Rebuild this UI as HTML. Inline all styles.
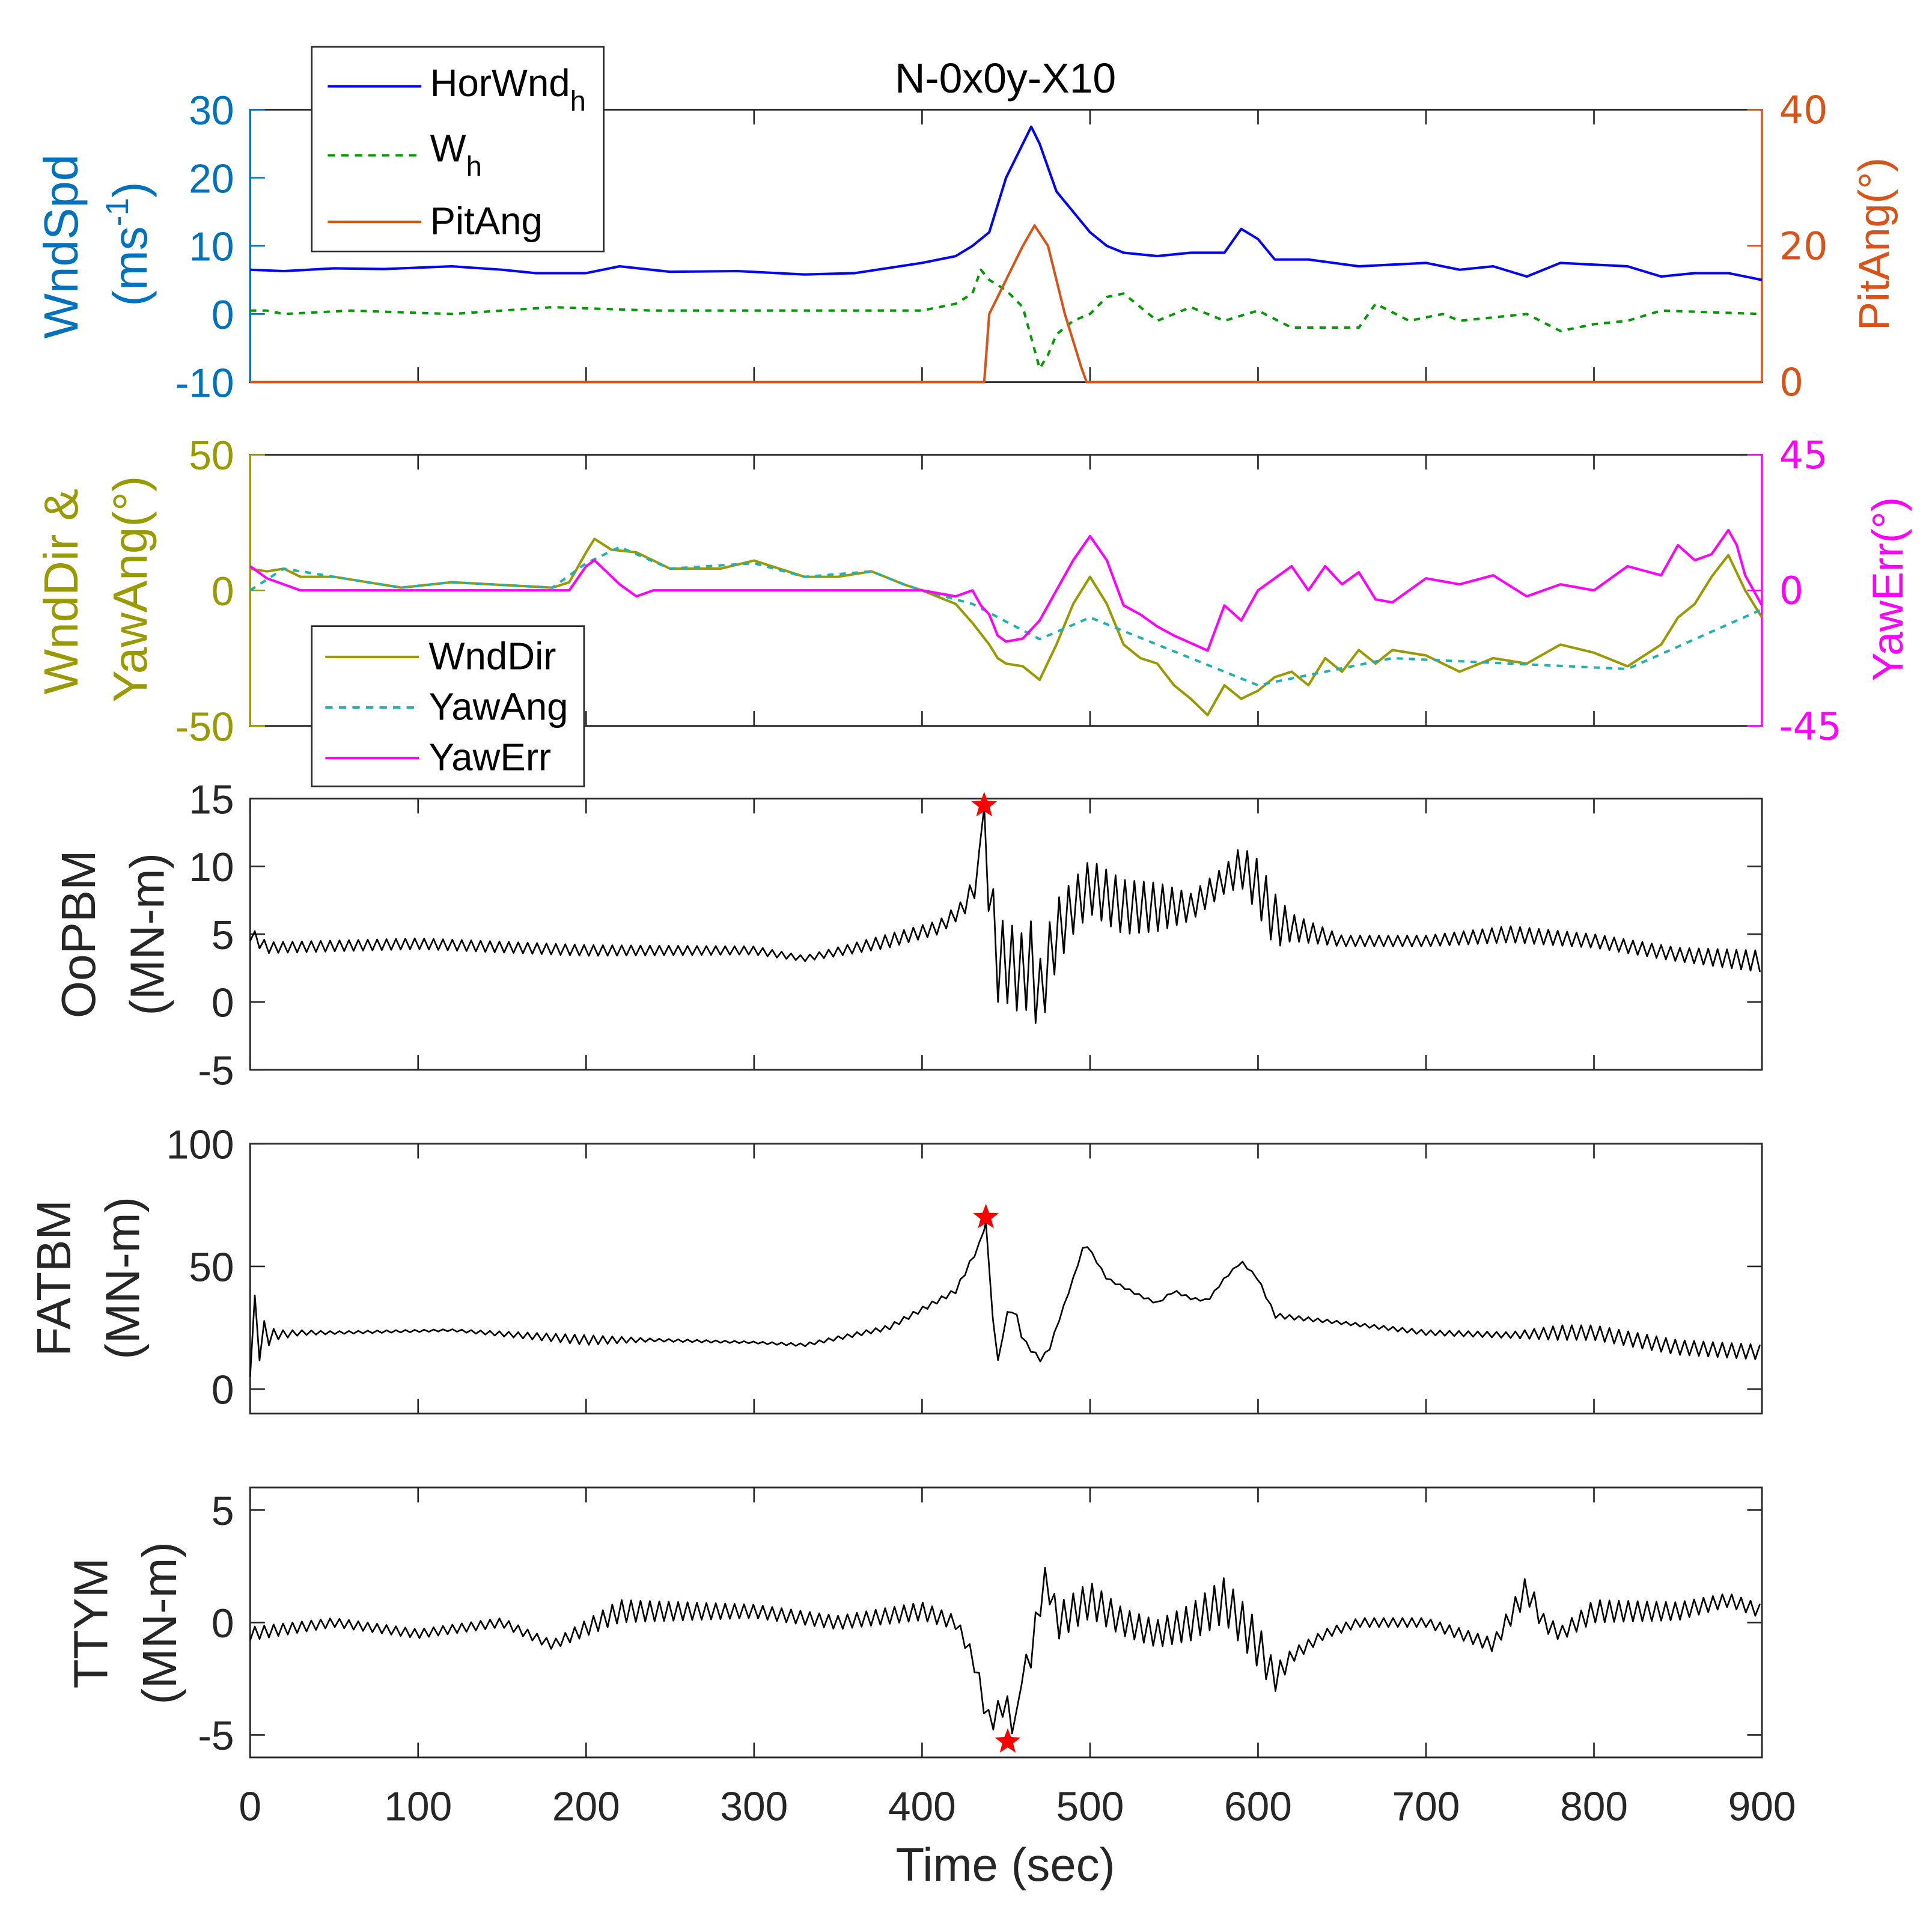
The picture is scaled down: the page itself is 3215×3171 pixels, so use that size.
<!DOCTYPE html>
<html><head><meta charset="utf-8"><style>
html,body{margin:0;padding:0;background:#fff;}
svg{display:block;}
text{font-family:"Liberation Sans",Arial,sans-serif;}
.r{font-family:"DejaVu Sans","Liberation Sans",sans-serif;}
</style></head><body>
<svg id="fig" xmlns="http://www.w3.org/2000/svg" width="3215" height="3171" viewBox="0 0 1568 1546.5">
<rect width="1568" height="1546.5" fill="#fff"/>
<g id="plots"></g>
</svg>
<script>
// ---------- DATA ----------
const xTicks=[0,100,200,300,400,500,600,700,800,900];
const horT=[0,20,50,80,120,150,170,200,220,250,290,330,360,400,420,430,440,450,460,465,470,480,490,500,510,520,540,560,580,590,600,610,630,660,700,720,740,760,780,820,840,860,880,900];
const horV=[6.5,6.3,6.7,6.6,7,6.5,6,6,7,6.2,6.3,5.8,6,7.5,8.5,10,12,20,25,27.5,25,18,15,12,10,9,8.5,9,9,12.5,11,8,8,7,7.5,6.5,7,5.5,7.5,7,5.5,6,6,5];
const whT=[0,10,20,60,120,180,240,300,400,420,430,435,440,450,460,470,475,480,490,500,510,520,530,540,560,580,600,620,660,670,690,710,720,760,780,800,820,840,900];
const whV=[0.5,0.5,0,0.5,0,1,0.5,0.5,0.5,1.5,3,6.5,5,3.5,1,-8,-6,-3,-1,0,2.5,3,1,-1,1,-1,0.5,-2,-2,1.5,-1,0,-1,0,-2.5,-1.5,-1,0.5,0];
const pitT=[0,437,440,450,460,467,475,485,495,498,900];
const pitV=[0,0,10,15,20,23,20,10,2,0,0];
const dirT=[0,10,20,30,50,70,90,120,150,180,190,200,205,215,230,250,280,300,330,350,370,390,400,420,430,440,445,450,460,470,480,490,500,510,520,530,540,550,560,570,580,590,600,610,620,630,640,650,660,670,680,700,720,740,760,780,800,820,840,850,860,870,880,890,900];
const dirV=[8,7,8,5,5,3,1,3,2,1,3,14,19,15,14,8,8,11,5,5,7,2,0,-5,-12,-20,-25,-27,-28,-33,-20,-5,5,-5,-20,-25,-27,-35,-40,-46,-35,-40,-37,-32,-30,-35,-25,-30,-22,-27,-22,-24,-30,-25,-27,-20,-23,-28,-20,-10,-5,5,13,0,-10];
const yawT=[0,20,50,90,120,180,200,220,250,300,330,370,390,400,430,470,500,600,680,820,900];
const yawV=[0,8,5,1,3,1,10,16,8,10,5,7,2,0,-5,-18,-10,-35,-25,-29,-7];
const errT=[0,10,20,30,100,190,200,205,220,230,240,250,400,420,430,435,440,445,450,460,470,480,490,500,510,520,530,540,550,570,580,590,600,620,630,640,650,660,670,680,700,720,740,760,780,800,820,840,850,860,870,880,885,890,900];
const errV=[8,4,2,0,0,0,8,10,2,-2,0,0,0,-2,0,-5,-8,-15,-17,-16,-10,0,10,18,10,-5,-8,-12,-15,-20,-5,-10,0,8,0,8,2,6,-3,-4,4,2,5,-2,2,0,8,5,15,10,12,20,15,5,-5];
const oopT=[0,5,10,100,200,300,330,380,410,425,433,437,440,445,450,460,465,470,475,480,490,500,520,540,560,570,580,590,600,610,620,650,700,750,800,850,900];
const oopV=[5,4.5,4,4.3,3.8,3.8,3.2,4.5,5.5,7,9,14.5,8,3,3,2,3,0,3,5,7,8.5,7,7,7,8,9,10,8.5,6,5.5,4.5,4.5,5,4.5,3.5,3];
const oopA=[0.5,0.5,0.4,0.4,0.4,0.3,0.2,0.5,0.5,0.6,1,0,2.5,3,3,3,3,3,2.5,2.5,2,2,2,1.8,1,1,1,1.5,2,2,1,0.4,0.4,0.6,0.5,0.5,0.8];
const fatT=[0,3,8,15,30,50,120,200,240,300,330,380,420,435,438,442,445,450,455,460,470,475,480,490,497,510,530,540,550,560,570,580,590,600,610,650,700,750,780,800,850,900];
const fatV=[30,22,22,22,23,23,24,20,20,19,18,25,40,60,68,30,10,30,33,20,12,15,25,45,60,45,38,35,40,37,36,45,52,45,30,27,23,22,23,23,17,15];
const fatA=[25,15,6,2,1,0.6,0.4,2,0.6,0.4,0.6,1,1,1,0,0,1,1,1,1,1,1,0.5,0.5,0.5,0.5,0.5,0.5,0.5,0.5,0.5,0.5,0.5,0.5,1,0.6,1,1.2,3,3,3,3];
const ttyT=[0,50,100,150,180,220,300,350,400,420,430,435,440,450,455,460,465,470,475,480,500,520,540,560,580,600,610,620,640,660,700,740,760,770,780,800,850,880,900];
const ttyV=[-0.5,0,-0.5,0,-1,0.5,0.5,0,0.5,0,-1.5,-3,-4.5,-3.5,-5,-2,-1.5,1,2,0,1,0,-0.5,0,1,-1,-2.5,-1.5,-0.5,0,0,-1,1.5,0,-0.5,0.5,0.5,1,0.5];
const ttyA=[0.3,0.2,0.2,0.2,0.2,0.5,0.3,0.3,0.4,0.3,0.3,0.5,0.5,0.5,0.3,0.3,0.5,0.8,0.8,0.8,0.8,0.6,0.6,0.8,1,1,0.6,0.3,0.2,0.2,0.2,0.3,0.6,0.4,0.3,0.5,0.4,0.3,0.3];
const starT=[437,438,451];
const starV=[14.5,70,-5.3];
// ---------- RENDER ----------
const NS='http://www.w3.org/2000/svg';
const G=document.getElementById('plots');
const X0=203,X1=1430;
function xs(t){return X0+(t/900)*(X1-X0);}
function mk(tag,attrs,parent){const e=document.createElementNS(NS,tag);for(const k in attrs)e.setAttribute(k,attrs[k]);(parent||G).appendChild(e);return e;}
function ysc(lo,hi,top,bot){return v=>bot-(v-lo)/(hi-lo)*(bot-top);}
function interp(T,V,t){if(t<=T[0])return V[0];for(let i=1;i<T.length;i++){if(t<=T[i]){const f=(t-T[i-1])/(T[i]-T[i-1]);return V[i-1]+f*(V[i]-V[i-1]);}}return V[V.length-1];}
function pathOf(T,V,y){return T.map((t,i)=>(i?'L':'M')+xs(t).toFixed(2)+','+y(V[i]).toFixed(2)).join('');}
function oscPath(T,V,A,y){let d='';let ts=[];for(let t=0;t<=900;t+=2.8)ts.push(t);T.forEach((t,j)=>{if(A[j]===0)ts.push(t);});ts.sort((a,b)=>a-b);
 ts.forEach((t,i)=>{const a=interp(T,A,t);const s=(i%2?1:-1);const v=interp(T,V,t)+s*a;d+=(i?'L':'M')+xs(t).toFixed(2)+','+y(v).toFixed(2);});return d;}
function star(cx,cy,r){let p=[];for(let i=0;i<10;i++){const rr=i%2?r*0.42:r;const a=-Math.PI/2+i*Math.PI/5;p.push((cx+rr*Math.cos(a)).toFixed(2)+','+(cy+rr*Math.sin(a)).toFixed(2));}return p.join(' ');}
function axes(name,top,bot,lticks,ly,lcol,rticks,ry,rcol,showX){
 const g=mk('g',{});
 mk('rect',{x:X0,y:top,width:X1-X0,height:bot-top,fill:'none',stroke:'#262626','stroke-width':1.4},g);
 xTicks.forEach(t=>{mk('line',{x1:xs(t),x2:xs(t),y1:bot,y2:bot-12,stroke:'#262626','stroke-width':1.3},g);mk('line',{x1:xs(t),x2:xs(t),y1:top,y2:top+12,stroke:'#262626','stroke-width':1.3},g);
  if(showX){const tx=mk('text',{x:xs(t),y:bot+51,'font-size':33,'text-anchor':'middle',fill:'#262626'},g);tx.textContent=t;}});
 lticks.forEach(v=>{mk('line',{x1:X0,x2:X0+12,y1:ly(v),y2:ly(v),stroke:lcol,'stroke-width':1.3},g);const tx=mk('text',{x:X0-13,y:ly(v)+12,'font-size':33,'text-anchor':'end',fill:lcol},g);tx.textContent=v;});
 if(rticks){mk('line',{x1:X0,x2:X0,y1:top,y2:bot,stroke:lcol,'stroke-width':1.6},g);mk('line',{x1:X1,x2:X1,y1:top,y2:bot,stroke:rcol,'stroke-width':1.6},g);
  rticks.forEach(v=>{mk('line',{x1:X1,x2:X1-12,y1:ry(v),y2:ry(v),stroke:rcol,'stroke-width':1.3},g);const tx=mk('text',{x:X1+14,y:ry(v)+11,'font-size':31,'text-anchor':'start',fill:rcol,class:'r'},g);tx.textContent=v;});}
 else{lticks.forEach(v=>{mk('line',{x1:X1,x2:X1-12,y1:ly(v),y2:ly(v),stroke:'#262626','stroke-width':1.3},g);});}
 return g;}
function line(name,d,col,w,dash){const p=mk('path',{d:d,fill:'none',stroke:col,'stroke-width':w,'stroke-linejoin':'round'});if(dash)p.setAttribute('stroke-dasharray',dash);return p;}

const p1L=ysc(-10,30,89,310), p1R=ysc(0,40,89,310);
axes('panel-wind-speed-axes',89,310,[-10,0,10,20,30],p1L,'#0072BD',[0,20,40],p1R,'#D95319',false);
line('horwnd-line',pathOf(horT,horV,p1L),'#0000FF',2);
line('wh-line',pathOf(whT,whV,p1L),'#009900',2,'5,5');
line('pitang-line',pathOf(pitT,pitV,p1R),'#D95319',2);
const p2L=ysc(-50,50,369,589), p2R=ysc(-45,45,369,589);
axes('panel-wind-dir-axes',369,589,[-50,0,50],p2L,'#999900',[-45,0,45],p2R,'#FF00FF',false);
line('wnddir-line',pathOf(dirT,dirV,p2L),'#999900',2);
line('yawang-line',pathOf(yawT,yawV,p2L),'#20B0B0',2,'5,5');
line('yawerr-line',pathOf(errT,errV,p2R),'#FF00FF',2);
const p3=ysc(-5,15,648,868);
axes('panel-oopbm-axes',648,868,[-5,0,5,10,15],p3,'#262626',null,null,null,false);
line('oopbm-line',oscPath(oopT,oopV,oopA,p3),'#000',1.3);
const p4=ysc(-10,100,928,1147);
axes('panel-fatbm-axes',928,1147,[0,50,100],p4,'#262626',null,null,null,false);
line('fatbm-line',oscPath(fatT,fatV,fatA,p4),'#000',1.3);
const p5=ysc(-6,6,1207,1426);
axes('panel-ttym-axes',1207,1426,[-5,0,5],p5,'#262626',null,null,null,true);
line('ttym-line',oscPath(ttyT,ttyV,ttyA,p5),'#000',1.3);
[[p3,'oopbm-max-star'],[p4,'fatbm-max-star'],[p5,'ttym-min-star']].forEach((s,i)=>{const e=mk('polygon',{points:star(xs(starT[i]),s[0](starV[i]),11),fill:'#FF0000'});});
</script>
<svg style="position:absolute;left:0;top:0" width="3215" height="3171" viewBox="0 0 1568 1546.5">
<text x="816" y="75" font-size="34" text-anchor="middle" fill="#000" font-family="Liberation Sans, sans-serif">N-0x0y-X10</text>
<text x="816" y="1526" font-size="38" text-anchor="middle" fill="#262626" font-family="Liberation Sans, sans-serif">Time (sec)</text>
<g font-family="Liberation Sans, sans-serif" font-size="39">
<text transform="translate(63,200) rotate(-90)" text-anchor="middle" fill="#0072BD">WndSpd</text>
<text transform="translate(119,198) rotate(-90)" text-anchor="middle" fill="#0072BD">(ms<tspan font-size="26" dy="-15">-1</tspan><tspan dy="15">)</tspan></text>
<text transform="translate(63,480) rotate(-90)" text-anchor="middle" fill="#999900">WndDir &amp;</text>
<text transform="translate(119,478) rotate(-90)" text-anchor="middle" fill="#999900">YawAng(°)</text>
<text transform="translate(77,758) rotate(-90)" text-anchor="middle" fill="#262626">OoPBM</text>
<text transform="translate(133,758) rotate(-90)" text-anchor="middle" fill="#262626">(MN-m)</text>
<text transform="translate(57,1037) rotate(-90)" text-anchor="middle" fill="#262626">FATBM</text>
<text transform="translate(113,1037) rotate(-90)" text-anchor="middle" fill="#262626">(MN-m)</text>
<text transform="translate(87,1317) rotate(-90)" text-anchor="middle" fill="#262626">TTYM</text>
<text transform="translate(143,1317) rotate(-90)" text-anchor="middle" fill="#262626">(MN-m)</text>
</g>
<g font-family="DejaVu Sans, sans-serif" font-size="35">
<text transform="translate(1533,198) rotate(-90)" text-anchor="middle" fill="#D95319">PitAng(°)</text>
<text transform="translate(1544,478) rotate(-90)" text-anchor="middle" fill="#FF00FF">YawErr(°)</text>
</g>
<g font-family="Liberation Sans, sans-serif" font-size="31">
<rect x="253" y="38" width="237" height="166" fill="#fff" stroke="#262626" stroke-width="1.3"/>
<line x1="266" y1="70" x2="342" y2="70" stroke="#0000FF" stroke-width="2"/>
<text x="349" y="78" fill="#000">HorWnd<tspan font-size="23" dy="12">h</tspan></text>
<line x1="266" y1="126" x2="342" y2="126" stroke="#009900" stroke-width="2" stroke-dasharray="6,5"/>
<text x="349" y="131" fill="#000">W<tspan font-size="23" dy="12">h</tspan></text>
<line x1="266" y1="180" x2="342" y2="180" stroke="#D95319" stroke-width="2"/>
<text x="349" y="190" fill="#000">PitAng</text>
</g>
<g font-family="Liberation Sans, sans-serif" font-size="31">
<rect x="253" y="508" width="221" height="130" fill="#fff" stroke="#262626" stroke-width="1.3"/>
<line x1="264" y1="533" x2="340" y2="533" stroke="#999900" stroke-width="2"/>
<text x="348" y="543" fill="#000">WndDir</text>
<line x1="264" y1="574" x2="340" y2="574" stroke="#20B0B0" stroke-width="2" stroke-dasharray="6,5"/>
<text x="348" y="584" fill="#000">YawAng</text>
<line x1="264" y1="615" x2="340" y2="615" stroke="#FF00FF" stroke-width="2"/>
<text x="348" y="625" fill="#000">YawErr</text>
</g>
</svg>
</body></html>
